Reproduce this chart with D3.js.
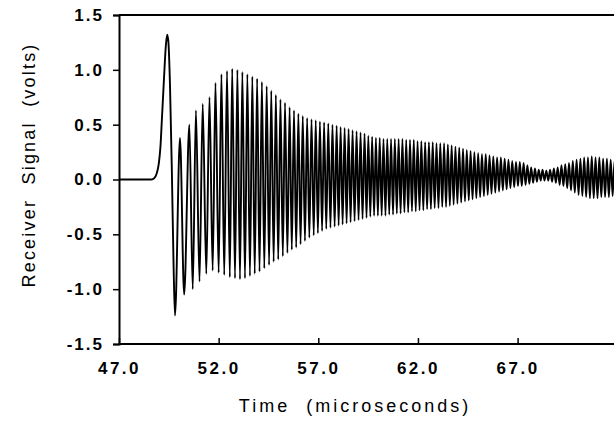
<!DOCTYPE html>
<html><head><meta charset="utf-8">
<script src="https://cdn.jsdelivr.net/npm/d3@7"></script>
<style>body{margin:0;background:#fff}svg{display:block}</style>
</head><body>
<svg id="chart" width="614" height="426"></svg>
<script>
// ---- data ----
const xTicks = [47, 52, 57, 62, 67];
const yTicks = [-1.5, -1.0, -0.5, 0.0, 0.5, 1.0, 1.5];
const xTitle = "Time  (microseconds)";
const yTitle = "Receiver  Signal  (volts)";

// initial pulse (microseconds, volts)
const pulseTime  = [47.0, 48.60, 48.75, 48.90, 49.00, 49.08, 49.15, 49.26, 49.35, 49.42, 49.48, 49.56, 49.65, 49.74, 49.81];
const pulseVolts = [0.00, 0.00, 0.01, 0.06, 0.15, 0.30, 0.54, 0.93, 1.22, 1.32, 1.25, 0.85, 0.10, -0.80, -1.24];

// positive peaks of the ringing
const peakTime = [50.06, 50.53, 50.86, 51.20, 51.54, 51.84, 52.14, 52.42, 52.68, 52.94,
  53.19, 53.44, 53.69, 53.93, 54.17, 54.41, 54.64, 54.87, 55.10, 55.33,
  55.56, 55.78, 56.00, 56.22, 56.44, 56.66, 56.87, 57.08, 57.29, 57.50,
  57.71, 57.92, 58.12, 58.32, 58.52, 58.72, 58.92, 59.12, 59.32, 59.51,
  59.70, 59.89, 60.08, 60.27, 60.46, 60.65, 60.84, 61.03, 61.22, 61.41,
  61.60, 61.79, 61.98, 62.17, 62.36, 62.55, 62.74, 62.93, 63.12, 63.31,
  63.50, 63.69, 63.88, 64.07, 64.26, 64.45, 64.64, 64.83, 65.02, 65.21,
  65.40, 65.59, 65.78, 65.97, 66.16, 66.35, 66.54, 66.73, 66.92, 67.11,
  67.30, 67.49, 67.68, 67.87, 68.06, 68.25, 68.44, 68.63, 68.82, 69.01,
  69.20, 69.39, 69.58, 69.77, 69.96, 70.15, 70.34, 70.53, 70.72, 70.91,
  71.10, 71.29, 71.48, 71.67, 71.86];
const peakVolts = [0.38, 0.50, 0.63, 0.69, 0.75, 0.88, 0.96, 0.99, 1.01, 1.00,
  0.98, 0.96, 0.94, 0.92, 0.89, 0.85, 0.81, 0.77, 0.73, 0.70,
  0.66, 0.63, 0.60, 0.58, 0.56, 0.55, 0.54, 0.53, 0.52, 0.51,
  0.50, 0.49, 0.48, 0.47, 0.46, 0.45, 0.44, 0.43, 0.42, 0.40,
  0.39, 0.38, 0.38, 0.37, 0.37, 0.37, 0.37, 0.37, 0.37, 0.36,
  0.36, 0.36, 0.35, 0.35, 0.34, 0.34, 0.34, 0.33, 0.33, 0.33,
  0.32, 0.31, 0.30, 0.29, 0.28, 0.27, 0.26, 0.25, 0.24, 0.23,
  0.23, 0.22, 0.21, 0.20, 0.20, 0.19, 0.18, 0.17, 0.16, 0.16,
  0.15, 0.13, 0.11, 0.10, 0.09, 0.09, 0.08, 0.09, 0.10, 0.11,
  0.13, 0.14, 0.15, 0.17, 0.18, 0.19, 0.20, 0.20, 0.21, 0.20,
  0.20, 0.19, 0.19, 0.18, 0.17];

// negative troughs of the ringing
const troughTime = [50.27, 50.70, 51.04, 51.38, 51.70, 52.00, 52.28, 52.56, 52.82, 53.07,
  53.32, 53.57, 53.81, 54.05, 54.29, 54.53, 54.76, 54.99, 55.22, 55.45,
  55.67, 55.89, 56.11, 56.33, 56.55, 56.77, 56.98, 57.19, 57.40, 57.61,
  57.82, 58.02, 58.22, 58.42, 58.62, 58.82, 59.02, 59.22, 59.42, 59.61,
  59.80, 59.99, 60.18, 60.37, 60.56, 60.75, 60.94, 61.13, 61.32, 61.51,
  61.70, 61.89, 62.08, 62.27, 62.46, 62.65, 62.84, 63.03, 63.22, 63.41,
  63.60, 63.79, 63.98, 64.17, 64.36, 64.55, 64.74, 64.93, 65.12, 65.31,
  65.50, 65.69, 65.88, 66.07, 66.26, 66.45, 66.64, 66.83, 67.02, 67.21,
  67.40, 67.59, 67.78, 67.97, 68.16, 68.35, 68.54, 68.73, 68.92, 69.11,
  69.30, 69.49, 69.68, 69.87, 70.06, 70.25, 70.44, 70.63, 70.82, 71.01,
  71.20, 71.39, 71.58, 71.77, 71.96];
const troughVolts = [-1.05, -1.00, -0.93, -0.86, -0.83, -0.85, -0.87, -0.89, -0.90, -0.91,
  -0.90, -0.88, -0.86, -0.84, -0.81, -0.78, -0.75, -0.73, -0.70, -0.67,
  -0.64, -0.62, -0.59, -0.56, -0.53, -0.51, -0.49, -0.47, -0.45, -0.44,
  -0.43, -0.42, -0.41, -0.40, -0.39, -0.38, -0.37, -0.36, -0.35, -0.34,
  -0.33, -0.33, -0.33, -0.33, -0.32, -0.32, -0.31, -0.31, -0.30, -0.30,
  -0.29, -0.29, -0.28, -0.28, -0.27, -0.27, -0.26, -0.26, -0.25, -0.25,
  -0.24, -0.23, -0.22, -0.21, -0.20, -0.19, -0.18, -0.17, -0.16, -0.15,
  -0.14, -0.13, -0.12, -0.11, -0.10, -0.09, -0.08, -0.07, -0.06, -0.06,
  -0.05, -0.04, -0.03, -0.02, -0.01, -0.01, -0.01, -0.02, -0.03, -0.05,
  -0.06, -0.08, -0.10, -0.12, -0.14, -0.15, -0.16, -0.17, -0.17, -0.17,
  -0.16, -0.16, -0.16, -0.15, -0.15];

// ---- drawing ----
const svg = d3.select("#chart");
const padL = 119, padT = 15, padB = 344;
const x = d3.scaleLinear().domain([47, 72]).range([padL, padL + 25 * 19.93]);
const y = d3.scaleLinear().domain([-1.5, 1.5]).range([padB, padT]);
const font = "'Liberation Sans', Arial, Helvetica, sans-serif";
const fmt = d => d.toFixed(1);

// assemble the trace
const pts = pulseTime.map((t, i) => [t, pulseVolts[i]]);
peakTime.forEach((t, i) => {
  pts.push([t, peakVolts[i]]);
  pts.push([troughTime[i], troughVolts[i]]);
});
pts.sort((a, b) => a[0] - b[0]);

svg.append("clipPath").attr("id", "clip").append("rect")
  .attr("x", padL).attr("y", padT - 5).attr("width", 614 - padL).attr("height", padB - padT + 10);

svg.append("path")
  .datum(pts)
  .attr("clip-path", "url(#clip)")
  .attr("fill", "none")
  .attr("stroke", "#000")
  .attr("stroke-width", 1.9)
  .attr("stroke-linejoin", "round")
  .attr("d", d3.line().x(d => x(d[0])).y(d => y(d[1])).curve(d3.curveMonotoneX));

// top frame line
svg.append("line").attr("x1", padL).attr("x2", 614).attr("y1", padT).attr("y2", padT)
  .attr("stroke", "#000").attr("stroke-width", 2);

// y axis (ticks outward)
const yAxis = svg.append("g").attr("transform", `translate(${padL},0)`)
  .call(d3.axisLeft(y).tickValues(yTicks).tickFormat(fmt).tickSize(6).tickPadding(9));
yAxis.select(".domain").attr("stroke-width", 2);
yAxis.selectAll(".tick line").attr("stroke-width", 1.5);
yAxis.selectAll("text").attr("font-family", font).attr("font-size", 17).attr("font-weight", "bold")
  .attr("letter-spacing", "2px").attr("fill", "#000");

// x axis (ticks inward)
const xAxis = svg.append("g").attr("transform", `translate(0,${padB})`)
  .call(d3.axisBottom(x).tickValues(xTicks).tickFormat(fmt).tickSizeInner(-6).tickSizeOuter(0).tickPadding(18));
xAxis.select(".domain").attr("stroke-width", 2).attr("d", `M${padL},0H614`);
xAxis.selectAll(".tick line").attr("stroke-width", 1.5);
xAxis.selectAll("text").attr("font-family", font).attr("font-size", 17).attr("font-weight", "bold")
  .attr("letter-spacing", "2.5px").attr("fill", "#000");

// titles
svg.append("text").attr("x", 355).attr("y", 412).attr("text-anchor", "middle")
  .attr("font-family", font).attr("font-size", 18).attr("letter-spacing", "3px")
  .style("white-space", "pre")
  .text(xTitle);
svg.append("text").attr("transform", "translate(35,165) rotate(-90)").attr("text-anchor", "middle")
  .attr("font-family", font).attr("font-size", 18).attr("letter-spacing", "2.2px")
  .style("white-space", "pre")
  .text(yTitle);
</script>
</body></html>
